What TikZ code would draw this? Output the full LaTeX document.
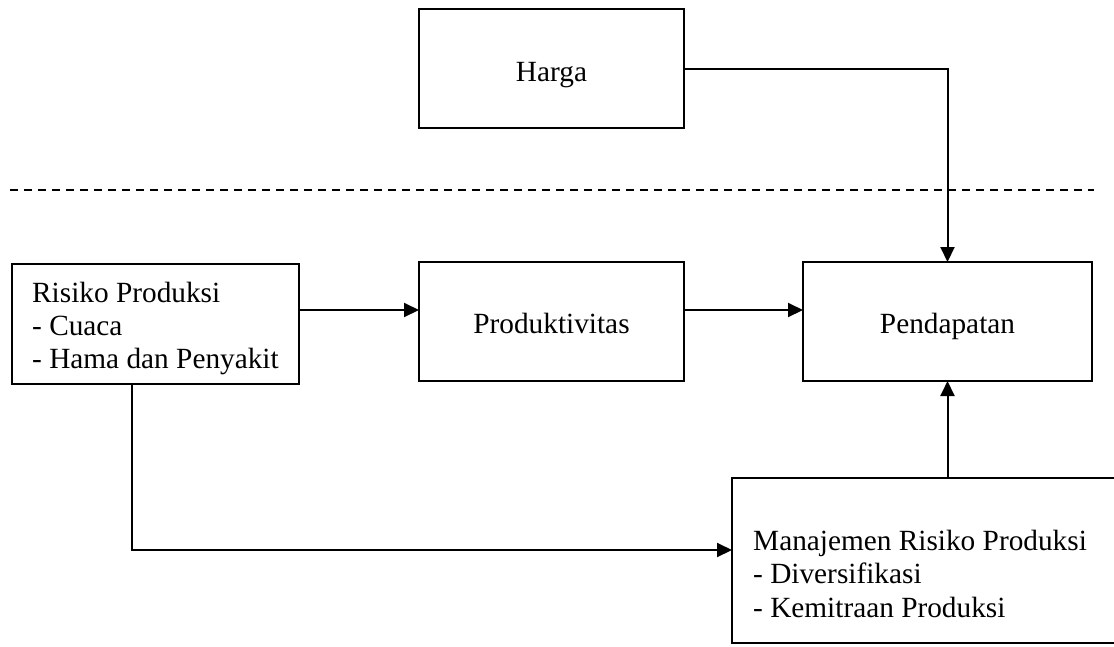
\documentclass[tikz,border=0pt]{standalone}
\usepackage{fontspec}
\setmainfont{Liberation Serif}
\usetikzlibrary{arrows.meta}
\begin{document}
\begin{tikzpicture}[x=1pt,y=1pt,
  box/.style={draw, line width=2pt, inner sep=0pt, outer sep=0pt},
  txt/.style={inner sep=0pt, font=\fontsize{29.3}{33}\selectfont},
  arr/.style={line width=2pt, -{Triangle[length=15pt,width=14pt]}}]
\clip (0,0) rectangle (1114,-646);
% boxes
\node[box, minimum width=265pt, minimum height=119pt] (harga) at (551.5,-68.5) {};
\node[box, minimum width=265pt, minimum height=119pt] (prod) at (551.5,-321.5) {};
\node[box, minimum width=289pt, minimum height=119pt] (pend) at (947.5,-321.5) {};
\node[box, minimum width=287pt, minimum height=120pt] (risk) at (155.5,-324) {};
\node[box, minimum width=408pt, minimum height=165pt] (manaj) at (936,-560.5) {};
% texts
\node[txt, anchor=base] (th) at (551.5,-81) {Harga};
\node[txt, anchor=base] (tp) at (551.5,-333) {Produktivitas};
\node[txt, anchor=base] (tpd) at (947.5,-333) {Pendapatan};
\node[txt, anchor=base west] (tr1) at (32,-302) {Risiko Produksi};
\node[txt, anchor=base west] (tr2) at (32,-335) {- Cuaca};
\node[txt, anchor=base west] (tr3) at (32,-368) {- Hama dan Penyakit};
\node[txt, anchor=base west] (tm1) at (753,-550) {Manajemen Risiko Produksi};
\node[txt, anchor=base west] (tm2) at (753,-583) {- Diversifikasi};
\node[txt, anchor=base west] (tm3) at (753,-617) {- Kemitraan Produksi};
% helper coordinates
\coordinate (ya) at (0,-310);
\coordinate (yb) at (0,-550);
\coordinate (xr) at (132,0);
\coordinate (dl) at (10,-190);
\coordinate (dr) at (1094,-190);
% dashed separator
\draw[line width=1.6pt, dash pattern=on 8pt off 6pt] (dl) -- (dr);
% connectors
\draw[arr] (harga.east) -| (pend.north);
\draw[arr] (risk.east |- ya) -- (prod.west |- ya);
\draw[arr] (prod.east |- ya) -- (pend.west |- ya);
\draw[arr] (risk.south -| xr) |- (manaj.west |- yb);
\draw[arr] (manaj.north -| pend.south) -- (pend.south);
\end{tikzpicture}
\end{document}
